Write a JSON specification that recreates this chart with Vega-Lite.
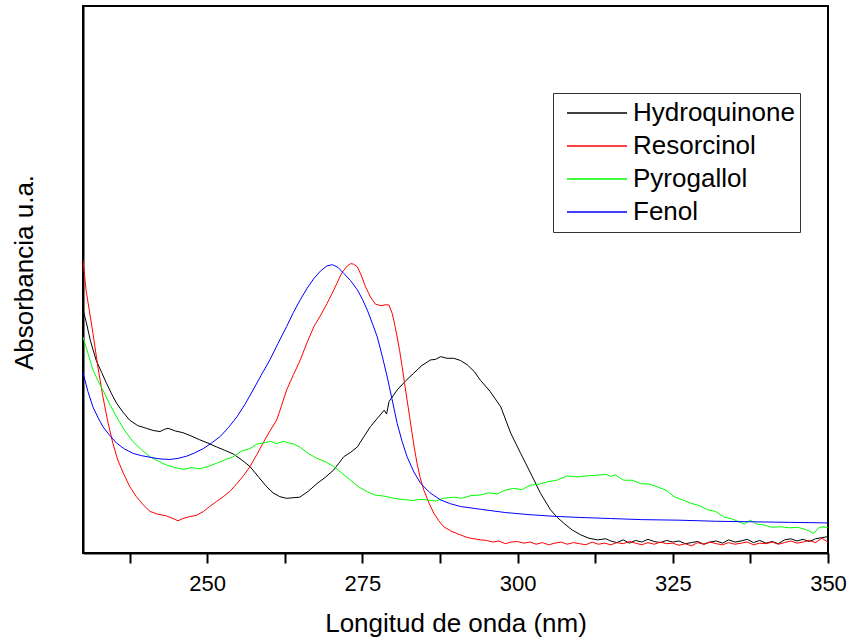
{
  "$schema": "https://vega.github.io/schema/vega-lite/v6.json",
  "width": 745,
  "height": 547,
  "autosize": {"type": "none"},
  "padding": {"left": 83, "top": 6, "right": 21, "bottom": 86},
  "background": "white",
  "config": {
    "font": "Liberation Sans",
    "view": {"stroke": "black", "strokeWidth": 2},
    "axis": {"grid": false, "domainColor": "black", "domainWidth": 2, "tickColor": "black", "labelColor": "black", "titleColor": "black", "titleFontWeight": "normal"}
  },
  "data": {
    "values": [
      {"s": "Hydroquinone",
       "x": [230,230.5,231.2,232.1,233,233.8,234.6,235.4,236.4,237.5,238.8,240.2,241.3,242.4,243.1,243.7,244.9,246.1,247.4,248.8,250.1,251.5,252.8,254.2,255.6,256.9,258.2,259.6,260.6,261.7,262.8,263.8,264.9,266.3,267.7,269,270.4,271.2,272,273.1,274.2,275.2,276.3,277.4,278.5,278.9,279.3,280.6,282,283.3,284.6,286,286.8,287.6,288.6,289.7,290.8,291.9,293,294,295.6,297.3,298.9,300.5,302.1,303.7,305.3,306.4,307.5,308.8,310.2,311.5,312.9,314.2,315,316,317,318,319,320,321,322,323,324,325,326,327,328,329,330,331,332,333,334,335,336,337,338,339,340,341,342,343,344,345,346,347,348,349,350],
       "y": [44.5,42.3,38.8,35.3,33,31,29.1,27.4,25.8,24.3,23.3,22.8,22.4,22.2,22.6,22.8,22.3,22.0,21.4,20.7,20.1,19.4,18.8,18.1,17.0,15.8,14.0,12.1,11.0,10.3,10.0,10.1,10.2,11.3,12.7,13.8,15.2,16.4,17.6,18.4,19.4,21.2,23.1,24.6,26.1,25.4,27.7,29.8,31.5,32.9,34.3,35.3,35.4,35.9,35.6,35.6,35.2,34.4,33.2,31.6,29.5,26.7,21.9,18.2,14.6,10.9,7.9,6.5,5.4,4.2,3.3,2.7,2.4,2.6,2.2,1.9,2.4,1.8,2.3,2.0,2.5,2.1,1.9,2.3,2.0,2.2,1.7,1.9,2.1,1.6,2.0,2.2,1.8,2.4,2.0,2.2,2.5,1.9,2.3,1.8,2.1,1.7,2.4,2.6,2.2,2.5,2.1,2.6,2.8,3.0]},
      {"s": "Resorcinol",
       "x": [230,230.5,231.6,232.4,233.2,234,234.8,235.6,236.5,237.5,238.6,239.7,240.8,242,243.4,244.5,245.3,246.1,247,248.3,249.4,250.4,251.5,252.6,253.7,254.8,255.9,256.9,258,259,260.1,261.2,262,262.8,263.9,265,266.1,267.2,268.3,269.3,270.1,270.9,271.5,272,272.6,273.1,273.6,274.2,274.8,275.5,276.3,277.1,278,278.8,279.3,279.8,280.2,280.6,281,281.4,281.8,282.2,282.6,283,283.4,283.8,284.3,284.9,285.7,286.5,287.3,288.1,289.3,290.8,292,293,294,295,296,297,298,299,300,301,302,303,304,305,306,307,308,309,310,311,312,313,314,315,316,317,318,319,320,321,322,323,324,325,326,327,328,329,330,331,332,333,334,335,336,337,338,339,340,341,342,343,344,345,346,347,348,349,350],
       "y": [53.6,48,40.2,34,28.6,24,20.1,17,14.6,12.2,10.3,8.8,7.6,7.1,6.8,6.3,5.9,6.3,6.6,6.9,7.6,8.5,9.4,10.3,11.3,12.7,14.2,15.8,18.0,20.1,22.3,24.3,27,29.8,32.6,35.3,38.5,41.4,43.5,45.6,47.4,49.3,50.8,51.7,52.5,52.9,52.8,52.3,50.8,48.7,46.8,45.5,45.2,45.4,45.3,43.8,41.8,39.5,37,34.1,31,28.0,25,21.9,19,16.4,13.8,11.5,9.2,7.3,5.9,4.8,4.0,3.3,2.8,2.6,2.4,2.3,2.0,2.2,1.7,2.0,2.1,1.8,2.0,1.6,1.9,1.5,1.8,2.0,1.6,1.9,1.7,1.5,2.0,1.6,1.8,1.5,1.9,1.7,2.1,1.8,1.5,1.9,1.6,2.0,1.7,1.8,1.4,1.7,1.3,1.9,1.6,2.0,1.7,1.5,1.9,1.6,1.8,2.0,1.5,1.8,1.7,2.0,1.6,1.9,2.2,1.8,2.0,2.3,1.9,2.7,2.0]},
      {"s": "Pyrogallol",
       "x": [230,230.8,231.6,232.4,233.2,234.3,235.4,236.7,238.1,239.4,240.8,242.1,243.4,244.8,246.1,247.4,248.8,250.1,251.5,252.8,254.2,255.5,256.9,258,259,260.2,261.2,262.3,263.2,264,265,266.3,267.7,269,270.4,271.7,273.1,274.4,275.8,277,278.5,280.1,281.5,283,284.4,285.5,286.8,288,289.7,291,292.5,294,295.3,296.7,298,299.4,300.7,302.1,303.5,304.8,306.3,308,309.6,311.2,312.7,314.2,315,315.7,317.1,318.5,319.8,321.2,322.5,323.9,325.2,326.6,327.9,329.2,330.6,331.9,333.2,334.6,336.5,337.5,338.5,339.7,341,342.4,343.8,345.1,346.4,347.7,348.5,349.2,350],
       "y": [39.5,36.5,33.5,31.5,29.8,27.2,24.9,22.4,20.3,18.9,17.6,16.8,16.1,15.6,15.3,15.6,15.4,15.8,16.4,17.0,17.6,18.6,19.1,19.9,20.1,20.4,20.0,20.4,20.1,19.9,19.3,18.2,17.3,16.7,15.8,14.6,13.3,12.1,11.2,10.6,10.4,10.0,9.8,9.6,9.8,9.7,9.5,10.0,10.2,10.0,10.5,10.6,11.0,10.8,11.5,11.8,11.6,12.4,12.6,13.0,13.3,14.1,13.9,14.1,14.2,14.4,14.0,14.3,13.3,13.3,12.7,12.6,12.1,11.5,10.3,9.7,9.1,8.7,7.9,7.6,6.6,6.2,5.3,6.0,5.3,5.1,4.7,4.8,4.6,4.7,4.3,3.6,4.6,4.8,4.6]},
      {"s": "Fenol",
       "x": [230,230.8,231.6,232.4,233.2,234.3,235.4,236.7,238.1,239.4,240.8,242.4,244,245.3,246.7,248,249.4,250.7,252.1,253.4,254.8,256.1,257.4,258.7,260.1,261.4,262.8,263.9,265,266.1,267.2,268.3,269.3,270.2,271.1,272,273.1,274.2,275,275.8,276.6,277.4,278.2,279,279.8,280.6,281.4,282.2,283.3,284.4,285.9,287.6,289.2,290.8,294,298,302,306,310,315,320,326,332,338,344,350],
       "y": [33.0,29.5,26.7,24.8,23.1,21.5,20.1,19.0,18.2,17.8,17.5,17.2,17.1,17.3,17.7,18.3,19.1,20.1,21.3,22.9,24.9,27.2,29.8,32.5,35.3,38.3,41.4,44.0,46.3,48.4,50.2,51.6,52.5,52.7,52.2,51.1,49.8,48.1,46.4,44.4,42.0,39.5,36.0,32.2,28.0,23.7,20.4,17.6,14.8,12.7,11.0,9.7,9.0,8.5,8.0,7.4,7.0,6.7,6.5,6.3,6.1,6.0,5.8,5.7,5.6,5.5]}
    ]
  },
  "transform": [{"flatten": ["x", "y"]}],
  "mark": {"type": "line", "strokeWidth": 1, "clip": true},
  "encoding": {
    "x": {
      "field": "x", "type": "quantitative",
      "scale": {"domain": [230, 350], "nice": false, "zero": false},
      "axis": {
        "title": "Longitud de onda (nm)",
        "values": [237.5, 250, 262.5, 275, 287.5, 300, 312.5, 325, 337.5, 350],
        "labelExpr": "datum.value % 25 == 0 ? datum.label : ''",
        "labelFlush": false,
        "labelFontSize": 22,
        "labelPadding": 10,
        "tickSize": 10,
        "tickWidth": 2,
        "titleFontSize": 26,
        "titlePadding": 16
      }
    },
    "y": {
      "field": "y", "type": "quantitative",
      "scale": {"domain": [0, 100], "nice": false},
      "axis": {
        "title": "Absorbancia u.a.",
        "ticks": false,
        "labels": false,
        "titleFontSize": 26,
        "titlePadding": 46,
        "titleY": 266
      }
    },
    "color": {
      "field": "s", "type": "nominal",
      "scale": {"domain": ["Hydroquinone", "Resorcinol", "Pyrogallol", "Fenol"], "range": ["#000000", "#ff0000", "#00ff00", "#0000ff"]},
      "legend": {
        "title": null,
        "orient": "none",
        "legendX": 470,
        "legendY": 87,
        "strokeColor": "#333333",
        "padding": 5,
        "symbolOffset": 8,
        "clipHeight": 30,
        "rowPadding": 3,
        "labelFontSize": 26,
        "labelColor": "black",
        "labelLimit": 400,
        "labelOffset": 5,
        "symbolType": "stroke",
        "symbolSize": 3600,
        "symbolStrokeWidth": 1.5
      }
    }
  }
}
